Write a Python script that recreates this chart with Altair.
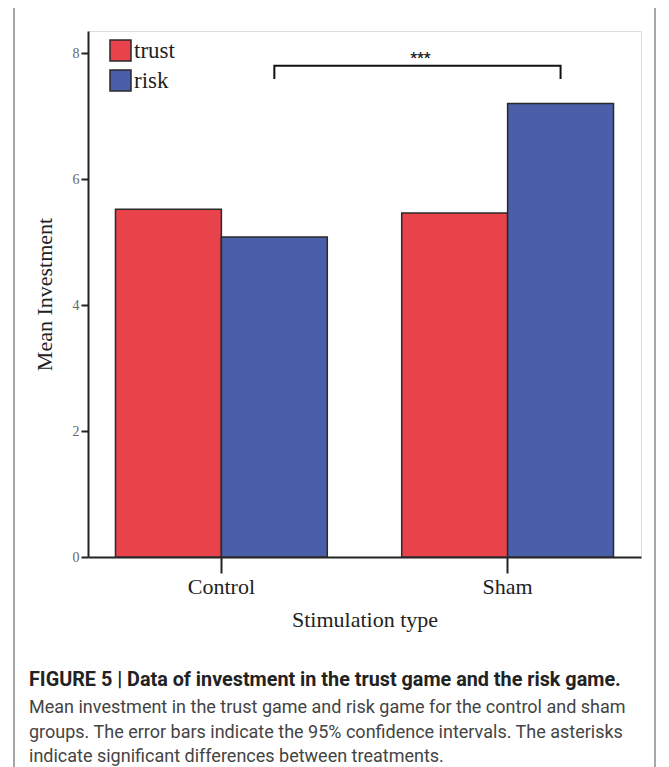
import altair as alt
import pandas as pd

# ---- data ----
groups = ["Control", "Control", "Sham", "Sham"]
games = ["trust", "risk", "trust", "risk"]
means = [5.52, 5.08, 5.46, 7.20]

bracket_groups = ["Control", "Control", "Sham", "Sham"]
bracket_games = ["risk", "risk", "risk", "risk"]
bracket_values = [7.59, 7.80, 7.80, 7.59]
bracket_order = [0, 1, 2, 3]

star_label = ["***"]
star_value = [7.97]

y_ticks = [0, 2, 4, 6, 8]
game_order = ["trust", "risk"]
group_order = ["Control", "Sham"]
colors = ["#E8424B", "#4A5EA9"]

caption_title = "FIGURE 5 | Data of investment in the trust game and the risk game."
caption_lines = [
    "Mean investment in the trust game and risk game for the control and sham",
    "groups. The error bars indicate the 95% confidence intervals. The asterisks",
    "indicate significant differences between treatments.",
]

# ---- layout constants ----
W, H = 553, 526
P_INNER, P_OUTER = 0.26, 0.096
step = W / (2 - P_INNER + 2 * P_OUTER)
SERIF = "Liberation Serif"
SANS = "Roboto"

bars_df = pd.DataFrame({"group": groups, "game": games, "mean": means})
br_df = pd.DataFrame({"group": bracket_groups, "game": bracket_games,
                      "v": bracket_values, "o": bracket_order})
star_df = pd.DataFrame({"group": ["Control"], "game": ["risk"],
                        "v": star_value, "t": star_label})

x_enc = alt.X(
    "group:N", sort=group_order,
    scale=alt.Scale(domain=group_order, paddingInner=P_INNER, paddingOuter=P_OUTER),
    axis=alt.Axis(
        title="Stimulation type", labelFont=SERIF, labelFontSize=22, labelColor="#222",
        titleFont=SERIF, titleFontSize=22, titleFontWeight="normal", titleColor="#222",
        titlePadding=12, labelPadding=3, tickSize=16, tickWidth=2, tickColor="#222",
        domainWidth=2, domainColor="#222", labelAngle=0, grid=False,
    ),
)
xo_enc = alt.XOffset("game:N", sort=game_order, scale=alt.Scale(domain=game_order))
y_scale = alt.Scale(domain=[0, 8.35], nice=False, zero=True)
y_enc = alt.Y(
    "mean:Q", scale=y_scale,
    axis=alt.Axis(
        title="Mean Investment", values=y_ticks, format="d",
        labelFont=SERIF, labelFontSize=14, labelColor="#666", labelPadding=2,
        tickSize=7, tickWidth=2, tickColor="#222", domainWidth=2, domainColor="#222",
        titleFont=SERIF, titleFontSize=22, titleFontWeight="normal", titleColor="#222",
        titlePadding=16, grid=False,
    ),
)

bars = alt.Chart(bars_df).mark_bar(stroke="#2a2a2a", strokeWidth=1.5).encode(
    x=x_enc, xOffset=xo_enc, y=y_enc,
    color=alt.Color(
        "game:N", sort=game_order,
        scale=alt.Scale(domain=game_order, range=colors),
        legend=alt.Legend(
            orient="none", legendX=21, legendY=8, title=None,
            symbolType="square", symbolSize=441, symbolStrokeColor="#2a2a2a",
            symbolStrokeWidth=1.5, symbolOpacity=1,
            labelFont=SERIF, labelFontSize=23, labelColor="#222",
            labelOffset=2, rowPadding=3,
        ),
    ),
)

bracket = alt.Chart(br_df).mark_line(color="#111", strokeWidth=2).encode(
    x=alt.X("group:N", sort=group_order),
    xOffset=alt.XOffset("game:N", sort=game_order),
    y=alt.Y("v:Q", scale=y_scale),
    order="o:Q",
)

stars = alt.Chart(star_df).mark_text(
    font=SANS, fontSize=15, fontWeight="bold", color="#222", dx=step / 2 + 3, dy=3
).encode(
    x=alt.X("group:N", sort=group_order),
    xOffset=alt.XOffset("game:N", sort=game_order),
    y=alt.Y("v:Q", scale=y_scale),
    text="t:N",
)

frame = alt.Chart(pd.DataFrame({"a": [0]})).mark_rect(
    fill=None, stroke="#8a8a8a", strokeWidth=1.5, clip=False
).encode(
    x=alt.value(-74), x2=alt.value(567), y=alt.value(-24), y2=alt.value(760)
)

cap_head = alt.Chart(pd.DataFrame({"t": [caption_title]})).mark_text(
    font=SANS, fontSize=19.8, fontWeight="bold", color="#222",
    align="left", baseline="middle", clip=False
).encode(text="t:N", x=alt.value(-59), y=alt.value(H + 123))

cap_body = alt.Chart(pd.DataFrame({"t": ["\n".join(caption_lines)]})).mark_text(
    font=SANS, fontSize=18, color="#444", align="left", baseline="middle",
    lineBreak="\n", lineHeight=24.5, clip=False
).encode(text="t:N", x=alt.value(-59), y=alt.value(H + 151))

chart = alt.layer(frame, bars, bracket, stars, cap_head, cap_body).properties(
    width=W, height=H,
    padding={"left": 80, "top": 23, "right": 20, "bottom": 210},
    autosize=alt.AutoSizeParams(type="none"),
).configure_view(stroke="#222", strokeWidth=2).configure(background="white")

chart.save("out.html", embed_options={"renderer": "svg", "actions": False})
